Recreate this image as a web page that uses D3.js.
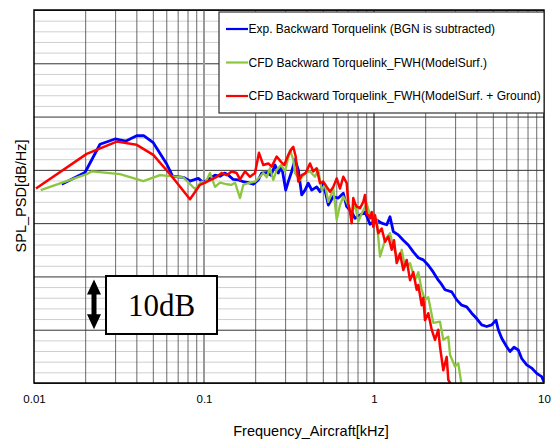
<!DOCTYPE html>
<html><head><meta charset="utf-8">
<script src="https://cdn.jsdelivr.net/npm/d3@7"></script>
<style>body{margin:0;background:#fff}svg{display:block}</style>
</head><body><svg id="c" width="558" height="440"></svg>
<script>
// ---- data (frequency kHz, SPL dB relative) ----
const xTickValues = [0.01, 0.1, 1, 10];
const xTickLabels = ["0.01", "0.1", "1", "10"];
const seriesNames = [
  "Exp. Backward Torquelink (BGN is subtracted)",
  "CFD Backward Torquelink_FWH(ModelSurf.)",
  "CFD Backward Torquelink_FWH(ModelSurf. + Ground)"
];
const seriesColors = ["#0000ff", "#8cc63f", "#ff0000"];

const expData = [[0.01455,37.3],[0.01995,39.5],[0.02445,44.8],[0.02996,45.8],[0.03477,45.4],[0.04019,46.4],[0.04437,46.4],[0.05031,45.1],[0.06034,41.1],[0.06545,38.8],[0.07554,38.6],[0.08273,37.9],[0.09259,38.4],[0.0991,37.6],[0.1085,38.4],[0.1161,39.0],[0.1242,38.8],[0.1329,39.4],[0.1390,39.0],[0.1487,38.2],[0.1591,38.1],[0.1703,37.8],[0.1822,37.6],[0.1950,37.3],[0.2086,38.1],[0.2185,39.4],[0.2338,39.5],[0.2479,39.0],[0.2617,40.9],[0.2736,39.4],[0.2865,40.6],[0.3024,36.2],[0.3132,37.8],[0.3280,39.7],[0.3430,41.9],[0.3587,40.0],[0.3756,35.3],[0.3928,36.2],[0.4107,37.5],[0.4300,36.2],[0.4601,36.8],[0.4813,35.9],[0.5032,37.5],[0.5386,33.4],[0.5763,35.0],[0.6166,34.7],[0.6598,35.6],[0.6909,33.1],[0.7393,32.1],[0.7731,30.9],[0.8273,31.5],[0.8853,32.1],[0.9473,29.8],[1.037,30.6],[1.110,30.0],[1.188,29.7],[1.242,31.2],[1.299,28.4],[1.390,27.8],[1.487,26.8],[1.591,25.9],[1.703,24.6],[1.822,23.5],[1.950,23.1],[2.086,22.1],[2.233,20.8],[2.389,19.3],[2.488,18.6],[2.617,17.5],[2.865,17.1],[3.066,15.6],[3.280,14.6],[3.510,14.3],[3.756,13.1],[4.019,12.1],[4.300,10.9],[4.601,10.6],[4.925,10.9],[5.219,11.8],[5.386,10.0],[5.640,8.4],[6.034,6.8],[6.310,5.9],[6.661,6.7],[7.062,6.2],[7.393,4.6],[7.911,3.4],[8.464,2.8],[9.060,1.8],[9.694,1.2],[10.0,0.2]];

const cfdSurfData = [[0.01095,36.2],[0.02042,39.2],[0.02185,39.7],[0.03205,39.2],[0.04395,37.9],[0.05511,39.0],[0.07554,38.6],[0.08853,36.4],[0.09694,37.8],[0.1014,37.5],[0.1085,39.4],[0.1161,36.8],[0.1242,37.6],[0.1360,37.3],[0.1455,37.2],[0.1522,37.6],[0.1629,34.7],[0.1703,37.2],[0.1822,37.5],[0.1995,37.8],[0.2135,38.7],[0.2233,39.4],[0.2338,38.6],[0.2445,40.3],[0.2557,38.1],[0.2677,40.0],[0.2838,40.9],[0.2996,39.7],[0.3205,43.7],[0.3352,41.9],[0.3430,39.4],[0.3670,38.1],[0.3928,39.4],[0.4202,39.7],[0.4498,38.7],[0.4703,40.0],[0.4925,36.2],[0.5150,37.2],[0.5386,34.0],[0.5763,36.5],[0.6034,30.6],[0.6310,33.4],[0.6598,35.0],[0.6909,34.0],[0.7393,31.8],[0.7731,33.6],[0.8086,30.3],[0.8464,31.8],[0.9060,33.7],[0.9473,31.5],[1.037,30.6],[1.085,23.7],[1.161,26.8],[1.242,28.1],[1.299,25.6],[1.390,23.1],[1.455,25.0],[1.522,21.8],[1.629,22.5],[1.743,19.3],[1.822,20.8],[1.908,17.5],[1.995,15.6],[2.086,16.1],[2.233,11.3],[2.445,11.5],[2.557,8.1],[2.736,8.7],[2.800,5.3],[2.996,3.1],[3.132,3.7],[3.280,-0.5]];

const cfdGroundData = [[0.01027,36.5],[0.02042,43.0],[0.03066,45.3],[0.04019,44.7],[0.05031,42.8],[0.06457,38.8],[0.08273,34.5],[0.09473,37.2],[0.1014,37.6],[0.1110,38.2],[0.1188,38.7],[0.1271,39.4],[0.1360,39.0],[0.1455,39.7],[0.1557,39.4],[0.1629,38.2],[0.1743,39.7],[0.1865,38.7],[0.1995,39.4],[0.2106,43.2],[0.2233,40.9],[0.2389,41.2],[0.2501,40.6],[0.2677,42.5],[0.2838,41.5],[0.2968,40.9],[0.3132,42.8],[0.3280,44.0],[0.3352,44.3],[0.3463,42.5],[0.3587,37.8],[0.3756,39.0],[0.3965,39.4],[0.4202,41.2],[0.4395,39.7],[0.4601,40.3],[0.4813,37.5],[0.5032,37.8],[0.5272,36.8],[0.5511,35.9],[0.5763,36.8],[0.6034,38.4],[0.6310,36.5],[0.6598,38.7],[0.6909,37.5],[0.7062,33.7],[0.7227,32.1],[0.7393,30.0],[0.7555,34.7],[0.7731,33.7],[0.7911,33.1],[0.8273,32.8],[0.8651,34.0],[0.8853,35.3],[0.9060,31.8],[0.9259,31.5],[0.9473,30.9],[0.9694,32.1],[0.9906,29.3],[1.014,31.5],[1.060,28.1],[1.110,29.0],[1.161,26.5],[1.214,27.5],[1.271,25.0],[1.311,26.8],[1.360,22.5],[1.422,24.3],[1.487,21.2],[1.557,23.1],[1.629,19.3],[1.703,20.8],[1.783,17.5],[1.822,18.4],[1.908,14.6],[1.950,16.0],[1.995,11.8],[2.086,13.1],[2.185,10.0],[2.285,8.1],[2.389,10.0],[2.445,6.8],[2.557,2.4],[2.677,4.9],[2.736,0.6],[2.865,-0.5]];

// ---- layout ----
const svg = d3.select("#c");
const W = 558, H = 440;
const m = {left: 34, right: 14, top: 10, bottom: 57};
const pw = W - m.left - m.right, ph = H - m.top - m.bottom;
const x = d3.scaleLog().domain([0.01, 10]).range([0, pw]);
const y = d3.scaleLinear().domain([0, 70]).range([ph, 0]);
const g = svg.append("g").attr("transform", `translate(${m.left},${m.top})`);
const sans = "Liberation Sans, Arial, sans-serif";

// horizontal grid: minor every 2 dB, major every 10 dB
const yMinor = d3.range(0, 71, 2).filter(v => v % 10 !== 0);
const yMajor = d3.range(0, 71, 10);
g.append("g").call(d3.axisLeft(y).tickValues(yMinor).tickSize(-pw).tickFormat(""))
  .call(a => a.select(".domain").remove())
  .selectAll("line").attr("stroke", "#cfcfcf").attr("stroke-width", 1);

// vertical grid
const xGrid = [];
[0.01, 0.1, 1].forEach(d => { for (let k = 2; k <= 9; k++) xGrid.push(d * k); });
g.append("g").attr("transform", `translate(0,${ph})`)
  .call(d3.axisBottom(x).tickValues(xGrid).tickSize(-ph).tickFormat(""))
  .call(a => a.select(".domain").remove())
  .selectAll("line").attr("stroke", "#444").attr("stroke-width", 0.8);

g.append("g").call(d3.axisLeft(y).tickValues(yMajor).tickSize(-pw).tickFormat(""))
  .call(a => a.select(".domain").remove())
  .selectAll("line").attr("stroke", "#333").attr("stroke-width", 1);

// decade lines
g.append("line").attr("x1", x(0.1)).attr("x2", x(0.1)).attr("y1", 0).attr("y2", ph)
  .attr("stroke", "#999").attr("stroke-width", 2);
g.append("line").attr("x1", x(1)).attr("x2", x(1)).attr("y1", 0).attr("y2", ph)
  .attr("stroke", "#222").attr("stroke-width", 1.2);

// clip
svg.append("defs").append("clipPath").attr("id", "clip")
  .append("rect").attr("width", pw).attr("height", ph);

const line = d3.line().x(d => x(d[0])).y(d => y(d[1]));
const plot = g.append("g").attr("clip-path", "url(#clip)");
[[expData, 0, 2.8], [cfdSurfData, 1, 2.3], [cfdGroundData, 2, 2.5]].forEach(([data, i, sw]) => {
  plot.append("path").datum(data).attr("d", line)
    .attr("fill", "none").attr("stroke", seriesColors[i]).attr("stroke-width", sw)
    .attr("stroke-linejoin", "round");
});

// frame
g.append("rect").attr("width", pw).attr("height", ph)
  .attr("fill", "none").attr("stroke", "#000").attr("stroke-width", 1.5);

// x tick labels
g.append("g").attr("transform", `translate(0,${ph})`)
  .call(d3.axisBottom(x).tickValues(xTickValues).tickSize(0).tickPadding(12)
    .tickFormat((d, i) => xTickLabels[i]))
  .call(a => a.select(".domain").remove())
  .selectAll("text").attr("font-family", sans)
  .attr("font-size", 11.5).attr("fill", "#000");

// axis titles
svg.append("text").attr("x", 311).attr("y", 436).attr("text-anchor", "middle")
  .attr("font-family", sans).attr("font-size", 14.5)
  .text("Frequency_Aircraft[kHz]");
svg.append("text").attr("transform", "translate(26,196) rotate(-90)").attr("text-anchor", "middle")
  .attr("font-family", sans).attr("font-size", 14.5)
  .text("SPL_PSD[dB/Hz]");

// legend
const lg = svg.append("g");
lg.append("rect").attr("x", 219).attr("y", 12).attr("width", 325).attr("height", 101)
  .attr("fill", "#fff").attr("stroke", "#333").attr("stroke-width", 1.2);
seriesNames.forEach((name, i) => {
  const ly = 29 + i * 33.5;
  lg.append("line").attr("x1", 226).attr("x2", 248).attr("y1", ly).attr("y2", ly)
    .attr("stroke", seriesColors[i]).attr("stroke-width", 2.2);
  lg.append("text").attr("x", 248.5).attr("y", ly + 4.3)
    .attr("font-family", sans).attr("font-size", 12)
    .text(name);
});

// 10dB scale annotation
const ann = svg.append("g");
ann.append("rect").attr("x", 106).attr("y", 276).attr("width", 111).attr("height", 58)
  .attr("fill", "#fff").attr("stroke", "#000").attr("stroke-width", 2);
ann.append("text").attr("x", 161.5).attr("y", 316).attr("text-anchor", "middle")
  .attr("font-family", "Liberation Serif, Times New Roman, serif").attr("font-size", 31)
  .text("10dB");
const ax = 94, aTop = m.top + y(20) + 3, aBot = m.top + y(10) - 0.5;
ann.append("path")
  .attr("d", `M${ax},${aTop} L${ax+7},${aTop+15} L${ax+2.5},${aTop+15} L${ax+2.5},${aBot-15} L${ax+7},${aBot-15} L${ax},${aBot} L${ax-7},${aBot-15} L${ax-2.5},${aBot-15} L${ax-2.5},${aTop+15} L${ax-7},${aTop+15} Z`)
  .attr("fill", "#000");
</script>
</body></html>
